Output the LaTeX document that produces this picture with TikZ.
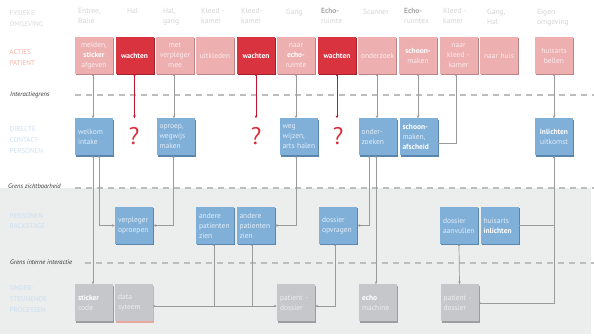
\documentclass[tikz,border=0pt]{standalone}
\usepackage{fontspec}
\setmainfont{PT Sans}
\usetikzlibrary{arrows.meta,shadows,calc}
\definecolor{pinkfill}{HTML}{EDAFB0}
\definecolor{pinkshade}{HTML}{B98587}
\definecolor{redfill}{HTML}{D8333E}
\definecolor{redshade}{HTML}{9E2029}
\definecolor{bluefill}{HTML}{80B0D8}
\definecolor{blueshade}{HTML}{5A85AC}
\definecolor{greyfill}{HTML}{C6C7CB}
\definecolor{greyshade}{HTML}{9C9DA1}
\definecolor{datashade}{HTML}{E7A79E}
\definecolor{bandgrey}{HTML}{ECEDED}
\definecolor{dashgrey}{HTML}{BDBDBD}
\definecolor{conngrey}{HTML}{9A9A9A}
\definecolor{connred}{HTML}{C3142E}
\definecolor{qred}{HTML}{D7303C}
\definecolor{hdrlight}{HTML}{D3D3D3}
\definecolor{hdrdark}{HTML}{A8A8A8}
\definecolor{lblgrey}{HTML}{DADADA}
\definecolor{lblpink}{HTML}{F5B1A4}
\definecolor{lblblue}{HTML}{CCDFF0}
\definecolor{bluetext}{HTML}{E4EEF8}
\definecolor{greytext}{HTML}{EEEEEF}
\definecolor{pinktext}{HTML}{FCEDED}
\definecolor{italgrey}{HTML}{333333}
\newcommand{\boldw}[1]{\textbf{\color{white}#1}}
\newcommand{\hdrb}[1]{\textbf{\color{hdrdark}#1}}
\tikzset{
  boxbase/.style={minimum width=38pt, minimum height=37pt, inner xsep=3pt, inner ysep=1pt, text width=32pt, font=\fontsize{7.5}{10}\selectfont},
  pinkshadow/.style={drop shadow={shadow xshift=1.3pt, shadow yshift=-1.3pt, opacity=1, fill=pinkshade}},
  redshadow/.style={drop shadow={shadow xshift=1.3pt, shadow yshift=-1.3pt, opacity=1, fill=redshade}},
  blueshadow/.style={drop shadow={shadow xshift=1.3pt, shadow yshift=-1.3pt, opacity=1, fill=blueshade}},
  greyshadow/.style={drop shadow={shadow xshift=1.3pt, shadow yshift=-1.3pt, opacity=1, fill=greyshade}},
  datashadow/.style={drop shadow={shadow xshift=1.3pt, shadow yshift=-1.3pt, opacity=1, fill=datashade}},
  pinkbox/.style={boxbase, pinkshadow, align=center, fill=pinkfill, text=pinktext},
  redbox/.style={boxbase, redshadow, align=center, fill=redfill, text=white, font=\fontsize{7.5}{10}\selectfont\bfseries},
  bluebox/.style={boxbase, blueshadow, align=left, fill=bluefill, text=bluetext},
  greyboxplain/.style={boxbase, align=left, fill=greyfill, text=greytext},
  greybox/.style={greyboxplain, greyshadow},
  hdr/.style={anchor=north west, inner sep=0pt, align=left, text=hdrlight, font=\fontsize{7.5}{10}\selectfont},
  lane/.style={anchor=north west, inner sep=0pt, align=left, font=\fontsize{7}{10.7}\selectfont},
  bound/.style={anchor=west, inner sep=0pt, text=italgrey, font=\fontsize{6.5}{8}\selectfont\itshape},
  dashline/.style={draw=dashgrey, line width=1.6pt, dash pattern=on 6pt off 5pt},
  conn/.style={draw=conngrey, line width=0.7pt, {Stealth[length=2pt,width=2.2pt]}-{Stealth[length=3pt,width=2.6pt]}},
  connjoin/.style={draw=conngrey, line width=0.7pt, {Stealth[length=2pt,width=2.2pt]}-},
  connplain/.style={draw=conngrey, line width=0.7pt},
  redconn/.style={draw=connred, line width=0.8pt, {Stealth[length=2pt,width=2.2pt]}-{Stealth[length=3pt,width=2.6pt]}},
  qmark/.style={inner sep=0pt, text=qred, font=\fontsize{24}{24}\selectfont},
}
\begin{document}
\begin{tikzpicture}[x=1pt,y=-1pt]
\useasboundingbox (0,0) rectangle (594,336);
% grey band
\fill[bandgrey] (0,188) rectangle (591,334);
% boundary lines
\draw[dashline] (75,95) -- (594,95);
\draw[dashline] (75,188) -- (594,188);
\draw[dashline] (85,263) -- (594,263);
\node[bound] (g1) at (10,94.5) {Interactiegrens};
\node[bound] (g2) at (8,186) {Grens zichtbaarheid};
\node[bound] (g3) at (10,262) {Grens interne interactie};
% lane labels
\node[lane, text=lblgrey] (l1) at (9.5,10.5) {FYSIEKE\\OMGEVING};
\node[lane, text=lblpink] (l2) at (9.5,49.5) {ACTIES\\PATIENT};
\node[lane, text=lblblue] (l3) at (9.5,126.5) {DIRECTE\\CONTACT-\\PERSONEN};
\node[lane, text=lblblue] (l4) at (9.5,213) {PERSONEN\\BACKSTAGE};
\node[lane, text=lblblue] (l5) at (9.5,285.5) {ONDER-\\STEUNENDE\\PROCESSEN};
% headers
\node[hdr] (h1) at (78,8.5) {Entree,\\Balie};
\node[hdr] (h2) at (127,8.5) {Hal};
\node[hdr] (h3) at (163,8.5) {Hal,\\gang};
\node[hdr] (h4) at (201,8.5) {Kleed -\\kamer};
\node[hdr] (h5) at (241,8.5) {Kleed-\\kamer};
\node[hdr] (h6) at (286,8.5) {Gang};
\node[hdr] (h7) at (321,8.5) {\hdrb{Echo-}\\ruimte};
\node[hdr] (h8) at (363,8.5) {Scanner};
\node[hdr] (h9) at (404,8.5) {\hdrb{Echo-}\\ruimtex};
\node[hdr] (h10) at (443,8.5) {Kleed -\\kamer};
\node[hdr] (h11) at (487,8.5) {Gang,\\Hal};
\node[hdr] (h12) at (537,8.5) {Eigen\\omgeving};
% acties patient
\node[pinkbox] (a1) at (94,55.5) {melden,\\\boldw{sticker}\\afgeven};
\node[redbox] (a2) at (134.5,55.5) {wachten};
\node[pinkbox] (a3) at (175,55.5) {met\\verpleger\\mee};
\node[pinkbox] (a4) at (215,55.5) {uitkleden};
\node[redbox] (a5) at (256,55.5) {wachten};
\node[pinkbox] (a6) at (296,55.5) {naar\\\boldw{echo-}\\ruimte};
\node[redbox] (a7) at (337,55.5) {wachten};
\node[pinkbox] (a8) at (377,55.5) {onderzoek};
\node[pinkbox] (a9) at (418,55.5) {\boldw{schoon-}\\maken};
\node[pinkbox] (a10) at (458.5,55.5) {naar\\kleed -\\kamer};
\node[pinkbox] (a11) at (499,55.5) {naar~huis};
\node[pinkbox] (a12) at (554,55.5) {huisarts\\bellen};
% directe contactpersonen
\node[bluebox] (b1) at (94,137) {welkom\\intake};
\node[bluebox] (b3) at (175.5,137) {oproep,\\wegwijs\\maken};
\node[bluebox] (b6) at (298.5,137) {weg\\wijzen,\\arts~halen};
\node[bluebox] (b8) at (377.5,137) {onder-\\zoeken};
\node[bluebox] (b9) at (418.5,137) {\boldw{schoon-}\\maken,\\\boldw{afscheid}};
\node[bluebox, align=center] (b12) at (554,137) {\boldw{inlichten}\\uitkomst};
\node[qmark] (q1) at (134,136) {?};
\node[qmark] (q2) at (256,136) {?};
\node[qmark] (q3) at (338,136) {?};
% backstage
\node[bluebox] (c2) at (134,225.5) {verpleger\\oproepen};
\node[bluebox] (c4) at (215,225.5) {andere\\patienten\\zien};
\node[bluebox] (c5) at (255.5,225.5) {andere\\patienten\\zien};
\node[bluebox] (c7) at (338,225.5) {dossier\\opvragen};
\node[bluebox] (c10) at (459,225.5) {dossier\\aanvullen};
\node[bluebox] (c11) at (499.5,225.5) {huisarts\\\boldw{inlichten}};
% ondersteunende processen
\node[greybox] (d1) at (94,303) {\boldw{sticker}\\code};
\node[greyboxplain, datashadow] (d2) at (134,303) {data\\syteem};
\node[greybox] (d6) at (296,303) {patient -\\dossier};
\node[greybox] (d8) at (378,303) {\boldw{echo}\\machine};
\node[greybox] (d10) at (459.5,303) {patient -\\dossier};
% connectors top -> contact
\draw[conn] ([xshift=-1pt]a1.south) -- ([xshift=-1pt]b1.north);
\draw[redconn] (a2.south) -- (a2.south |- b1.north);
\draw[conn] ([xshift=-1pt]a3.south) -- ([xshift=-1pt]a3.south |- b3.north);
\draw[redconn] (a5.south) -- (a5.south |- b1.north);
\draw[conn] (a6.south) -- (a6.south |- b6.north);
\draw[redconn] (a7.south) -- (a7.south |- b1.north);
\draw[conn] (a8.south) -- (a8.south |- b8.north);
\draw[conn] (a9.south) -- (a9.south |- b9.north);
\draw[connjoin] ([xshift=-2.5pt]a10.south) |- ([yshift=-6pt]b9.east);
\draw[conn] (a12.south) -- (b12.north);
% contact -> backstage / support
\draw[conn] ([xshift=5pt]b1.south) |- (c2.west);
\draw[conn] ([xshift=-1pt]b1.south) -- ([xshift=-1pt]d1.north);
\draw[conn] ([xshift=-2pt]b3.south) |- (c2.east);
\draw[conn] ([xshift=-2.5pt]b6.south) |- (c5.east);
\draw[conn] ([xshift=-8.5pt]b8.south) |- (c7.east);
\draw[conn] ([xshift=-1.5pt]b8.south) -- ([xshift=-1.5pt]b8.south |- d8.north);
\draw[conn] (d10.east) -| (b12.south);
\draw[connplain] (c11.east) -- (c11.east -| b12.south);
% backstage -> support
\draw[conn] ([yshift=-3pt]d2.east) -- ([yshift=-3pt]d6.west);
\draw[connjoin] ([xshift=-1pt]c4.south) -- ([xshift=-1pt,yshift=-3pt]c4.south |- d6.west);
\draw[connjoin] ([xshift=-3.5pt]c5.south) -- ([xshift=-3.5pt,yshift=-3pt]c5.south |- d6.west);
\draw[conn] ([xshift=-3pt]c7.south) |- ([yshift=-3pt]d6.east);
\draw[conn] (c10.south) -- (d10.north);
\end{tikzpicture}
\end{document}
